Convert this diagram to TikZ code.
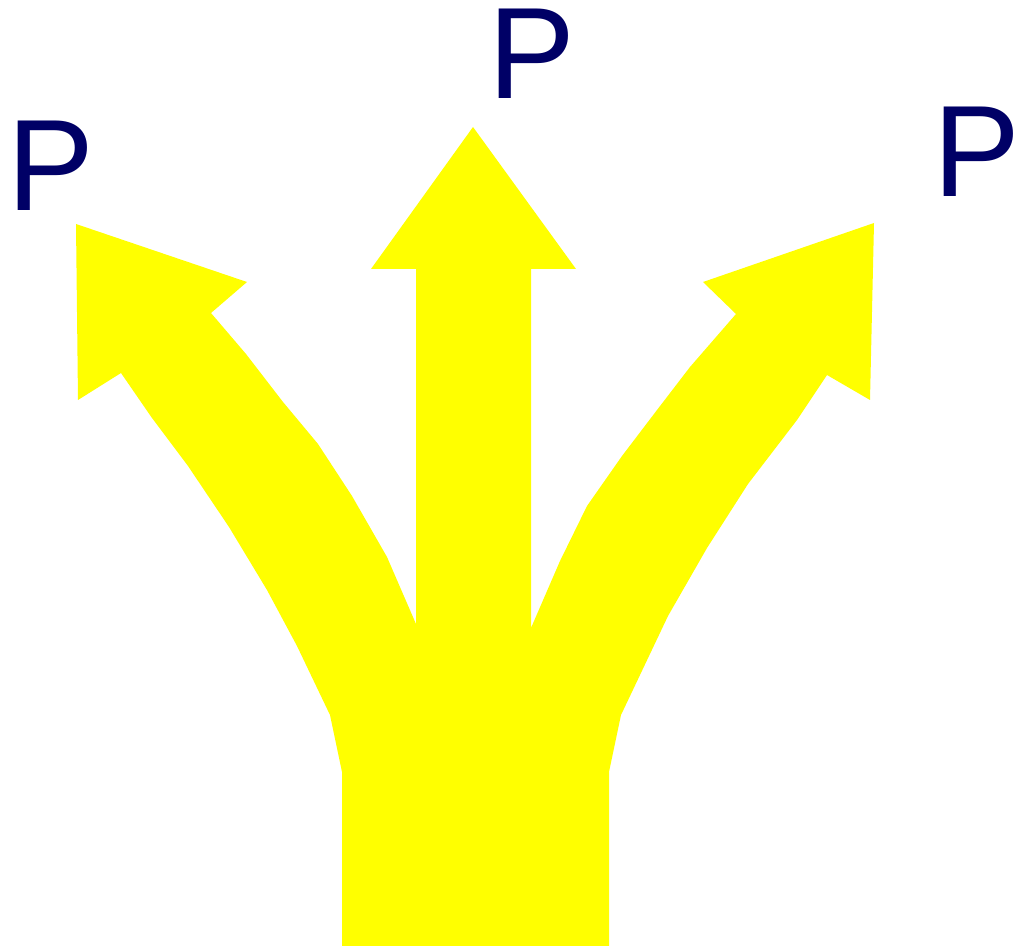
\documentclass[tikz,border=0pt]{standalone}
\usepackage{fontspec}
\setmainfont{Liberation Sans}
\usepackage{tikz}
\definecolor{forkyellow}{RGB}{255,255,0}
\definecolor{forknavy}{RGB}{0,0,102}

\begin{document}
\begin{tikzpicture}[
      x=0.01cm, y=-0.01cm,
      fork/.style={fill=forkyellow, draw=none},
      plabel/.style={inner sep=0pt, anchor=base, text=forknavy, font=\fontsize{37}{44}\selectfont}
    ]
      \useasboundingbox (0,0) rectangle (1027,946);

      \fill[fork] (342,946) -- (342,772) -- (330,715) -- (297,646) -- (267,590)
        -- (229,527) -- (188,466) -- (152,418) -- (121,373) -- (78,400)
        -- (76,224) -- (247,282) -- (211,313) -- (246,354) -- (283,402)
        -- (318,444) -- (352,496) -- (387,557) -- (416,624)
        -- (416,269) -- (371,269) -- (473,127) -- (576,269) -- (531,269)
        -- (531,628) -- (560,561) -- (587,506) -- (622,456) -- (657,410)
        -- (690,367) -- (736,314) -- (703,282) -- (874,223) -- (870,400)
        -- (827,375) -- (797,420) -- (748,484) -- (707,548) -- (668,616)
        -- (640,675) -- (621,715) -- (609,772) -- (609,946) -- cycle;

      \node[plabel] (pleft) at (51,211) {P};
      \node[plabel] (pmid) at (532,99) {P};
      \node[plabel] (pright) at (977,197) {P};
    \end{tikzpicture}
\end{document}
